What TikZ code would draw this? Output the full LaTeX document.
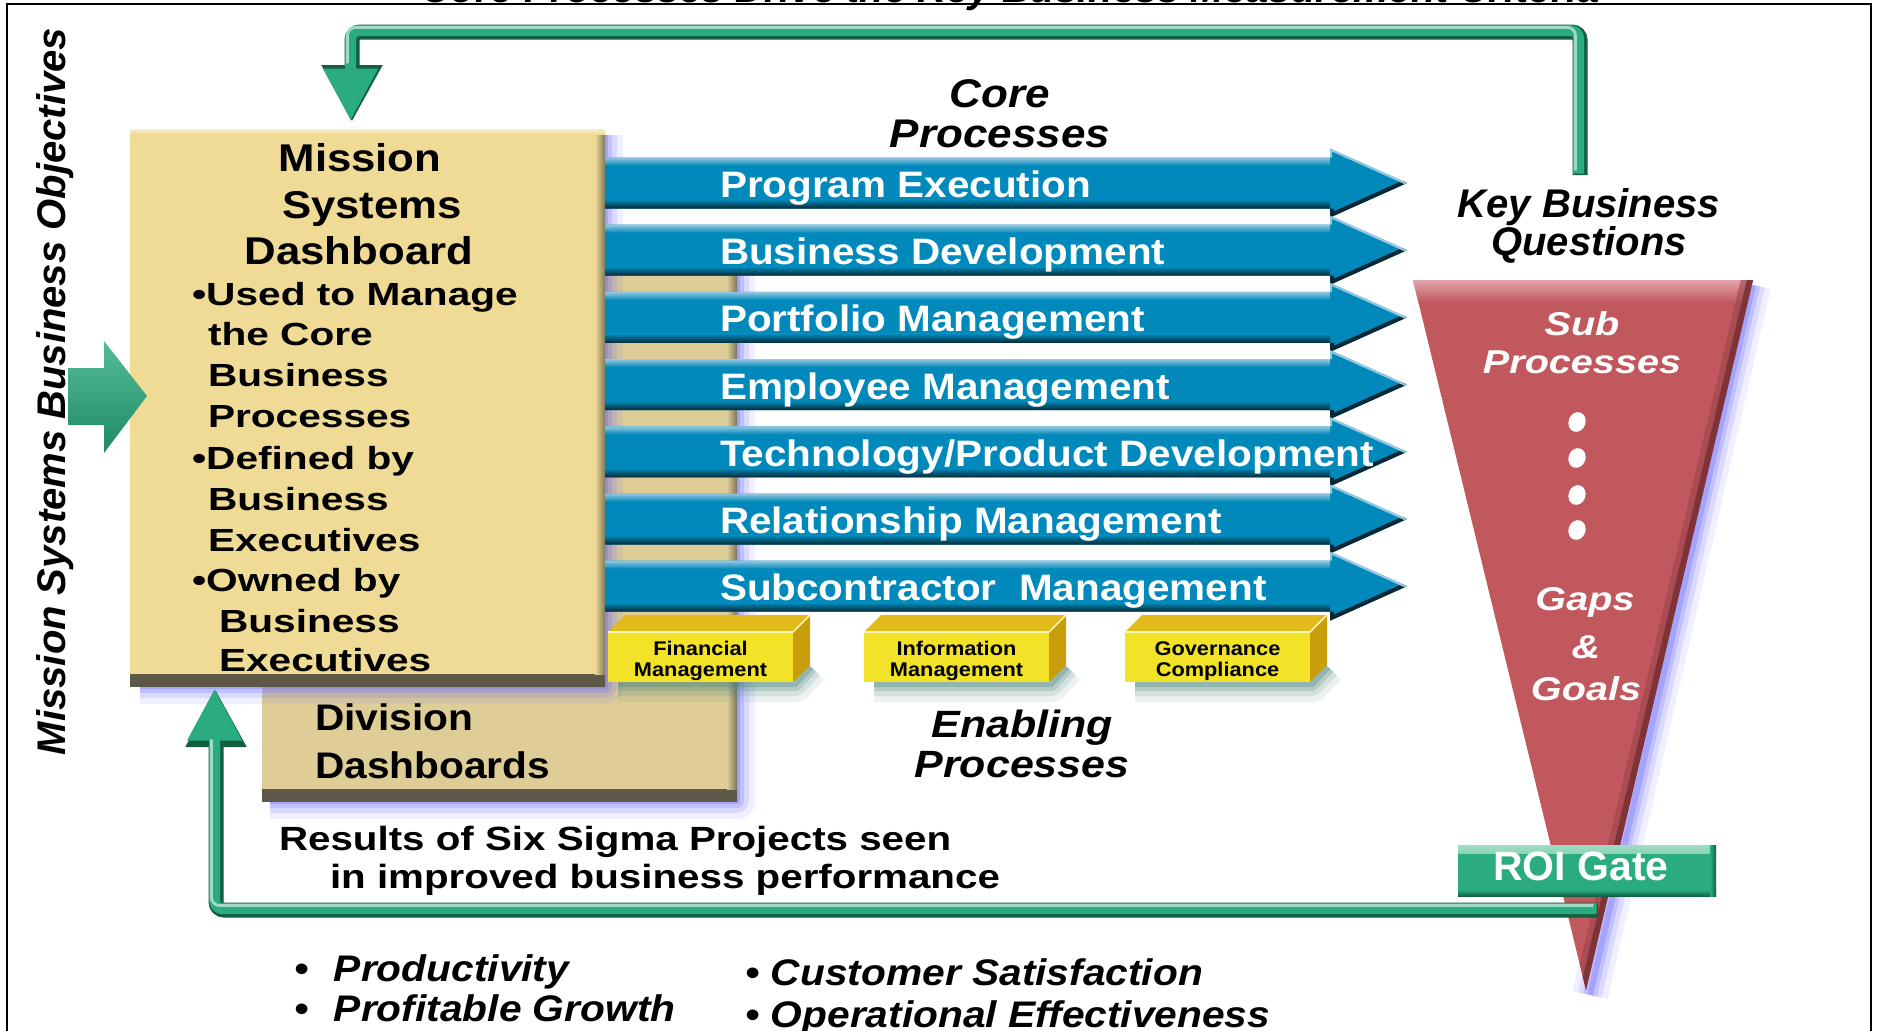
\documentclass[tikz,border=0pt]{standalone}
\usepackage{fontspec}
\setmainfont{Liberation Sans}
\newfontfamily\fnA{Liberation Sans}
\newfontfamily\fnB{Liberation Sans}[FakeStretch=1.10]
\newfontfamily\fnC{Liberation Sans}[FakeStretch=1.13]
\newfontfamily\fnD{Liberation Sans}[FakeStretch=1.20]
\newfontfamily\fnE{Liberation Sans}[FakeStretch=1.27]
\usetikzlibrary{arrows.meta}

\definecolor{beige}{RGB}{239,218,150}
\definecolor{beigeD}{RGB}{222,205,150}
\definecolor{bevel}{RGB}{92,87,70}
\definecolor{cblue}{RGB}{0,137,186}
\definecolor{cblueL}{RGB}{150,200,225}
\definecolor{cblueD}{RGB}{8,40,52}
\definecolor{fun}{RGB}{192,88,94}
\definecolor{funL}{RGB}{228,165,170}
\definecolor{funD}{RGB}{115,45,50}
\definecolor{grn}{RGB}{42,172,128}
\definecolor{grnL}{RGB}{160,220,195}
\definecolor{grnD}{RGB}{18,95,66}
\definecolor{yel}{RGB}{242,226,40}
\definecolor{yelT}{RGB}{226,186,28}
\definecolor{yelS}{RGB}{200,158,10}
\definecolor{glow}{RGB}{100,100,255}
\definecolor{shadowc}{RGB}{70,130,120}

\newcommand{\glowalong}[2][glow]{%
  \foreach \gw/\go in {18pt/0.10,12pt/0.15,7pt/0.22,3pt/0.30}{%
    \draw[#1, line width=\gw, draw opacity=\go, line join=round] #2;}}

\tikzset{
  txt/.style={inner sep=0pt, outer sep=0pt},
  bevelbox/.style={fill=#1, inner sep=0pt, outer sep=0pt, path picture={
    \shade[top color=#1, bottom color=bevel] ([yshift=6pt]path picture bounding box.south west) rectangle (path picture bounding box.south east);
    \shade[left color=#1, right color=bevel!75!#1] ([xshift=-5pt,yshift=-1pt]path picture bounding box.north east) rectangle ([yshift=6pt]path picture bounding box.south east);
    \shade[top color=white!55!#1, bottom color=#1] (path picture bounding box.north west) rectangle ([yshift=-2.5pt]path picture bounding box.north east);
  }},
  roibox/.style={fill=grn, inner sep=0pt, outer sep=0pt, path picture={
    \shade[top color=grnL, bottom color=grn] (path picture bounding box.north west) rectangle ([yshift=-4pt]path picture bounding box.north east);
    \shade[top color=grn, bottom color=grnD] ([yshift=3pt]path picture bounding box.south west) rectangle (path picture bounding box.south east);
    \shade[left color=grn, right color=grnD] ([xshift=-3pt]path picture bounding box.north east) rectangle (path picture bounding box.south east);
  }},
  fbdark/.style={draw=grnD, line width=7.5pt, rounded corners=4pt, -{Triangle[width=28.5pt,length=28.5pt]}},
  fbmain/.style={draw=grn, line width=5.5pt, rounded corners=4pt, -{Triangle[width=26pt,length=26pt]}, transform canvas={xshift=-0.7pt,yshift=0.7pt}},
  fblight/.style={draw=grnL, line width=1.4pt, rounded corners=4pt, shorten >=27pt, transform canvas={xshift=-2.3pt,yshift=2.3pt}},
  ttl/.style={txt, anchor=base, font=\fnA\bfseries\itshape\fontsize{20}{24}\selectfont},
  mhead/.style={txt, anchor=base, font=\fnC\bfseries\fontsize{19.35}{23}\selectfont},
  mbul/.style={txt, anchor=base west, font=\fnE\bfseries\fontsize{16}{20}\selectfont},
  arrtxt/.style={txt, anchor=base west, text=white, font=\fnB\bfseries\fontsize{18.4}{22}\selectfont},
  corett/.style={txt, anchor=base, font=\fnB\bfseries\itshape\fontsize{20}{24}\selectfont},
  entt/.style={txt, anchor=base, font=\fnC\bfseries\itshape\fontsize{19}{23}\selectfont},
  divt/.style={txt, anchor=base west, font=\fnB\bfseries\fontsize{18.5}{22}\selectfont},
  rest/.style={txt, anchor=base west, font=\fnD\bfseries\fontsize{16.8}{20}\selectfont},
  bult/.style={txt, anchor=base west, font=\fnB\bfseries\itshape\fontsize{18.5}{22}\selectfont},
  funt/.style={txt, anchor=base, text=white, font=\fnD\bfseries\itshape\fontsize{16.5}{20}\selectfont},
  ytxt/.style={txt, anchor=base, font=\fnB\bfseries\fontsize{9.9}{12}\selectfont},
}

\begin{document}
\begin{tikzpicture}[x=0.5pt,y=-0.5pt]
\useasboundingbox (0,0) rectangle (1880,1030);
\fill[white] (0,0) rectangle (1880,1030);
\draw[line width=1pt] (7,4) rectangle (1871,1050);
\node[ttl] (title) at (1011,2.5) {Core Processes Drive the Key Business Measurement Criteria};

% vertical label
\node[ttl, rotate=90] (vobj) at (65,391.5) {Mission Systems Business Objectives};

% division dashboards
\glowalong{(737,255) -- (737,801) -- (270,801)}
\node[bevelbox=beigeD, minimum width=237.5pt, minimum height=280.5pt, anchor=north west] (div) at (262,240) {};
\node[divt] (dv1) at (315,730) {Division};
\node[divt] (dv2) at (315,778) {Dashboards};

% mission systems dashboard
\glowalong{(605,135) -- (605,686) -- (140,686)}
\node[bevelbox=beige, minimum width=237.5pt, minimum height=278.5pt, anchor=north west] (msd) at (130,129) {};
\node[mhead] (mh1) at (360,171.8) {Mission};
\node[mhead] (mh2) at (372,218) {Systems};
\node[mhead] (mh3) at (359,264) {Dashboard};
\node[mbul] (mb1) at (192,305) {•Used to Manage};
\node[mbul] (mb2) at (208,345.7) {the Core};
\node[mbul] (mb3) at (208,386) {Business};
\node[mbul] (mb4) at (208,427) {Processes};
\node[mbul] (mb5) at (192,469.6) {•Defined by};
\node[mbul] (mb6) at (208,510) {Business};
\node[mbul] (mb7) at (208,551) {Executives};
\node[mbul] (mb8) at (192,591.7) {•Owned by};
\node[mbul] (mb9) at (219,632) {Business};
\node[mbul] (mb10) at (219,671) {Executives};

% input arrow
\shade[top color=grnL!35!grn, bottom color=grnD!45!grn] (68,368) -- (104,368) -- (104,341) -- (147,396) -- (104,453) -- (104,425) -- (68,425) -- cycle;

% core process arrows
\foreach \t [count=\i from 0] in {Program Execution, Business Development, Portfolio Management, Employee Management, Technology/Product Development, Relationship Management, Subcontractor\ \ Management}{
  \pgfmathsetmacro\yy{157.5+67.2*\i}
  \begin{scope}
    \path[clip] (605,\yy) -- (1330,\yy) -- (1330,\yy-9) -- (1407,\yy+25.5) -- (1330,\yy+60) -- (1330,\yy+51) -- (605,\yy+51) -- cycle;
    \fill[cblue] (600,\yy-10) rectangle (1410,\yy+61);
    \shade[top color=cblueL, bottom color=cblue] (600,\yy) rectangle (1330,\yy+8);
    \shade[top color=cblue, bottom color=cblueD] (600,\yy+42) rectangle (1330,\yy+51);
    \draw[cblueD, line width=4pt] (1330,\yy+51) -- (1330,\yy+60) -- (1407,\yy+25.5);
    \draw[cblueL, line width=2pt] (1330,\yy) -- (1330,\yy-9) -- (1407,\yy+25.5);
  \end{scope}
  \node[arrtxt] (p\i) at (720,\yy+40) {\t};
}
\node[corett] (core1) at (1000,107) {Core};
\node[corett] (core2) at (1000,147) {Processes};

% enabling process boxes
\foreach \bx/\la/\lb [count=\k] in {608/Financial/Management, 864/Information/Management, 1125/Governance/Compliance}{
  \glowalong[shadowc]{(\bx+10,684) -- (\bx+187,684) -- (\bx+203,667)}
  \fill[yel] (\bx,632) rectangle (\bx+185,682);
  \fill[yelT] (\bx,632) -- (\bx+17,615) -- (\bx+202,615) -- (\bx+185,632) -- cycle;
  \fill[yelS] (\bx+185,632) -- (\bx+202,615) -- (\bx+202,665) -- (\bx+185,682) -- cycle;
  \draw[white!65!yel, line width=0.8pt] (\bx,632) -- (\bx+185,632) -- (\bx+202,615);
  \node[ytxt] (ya\k) at (\bx+92.5,655) {\la};
  \node[ytxt] (yb\k) at (\bx+92.5,676) {\lb};
}
\node[entt] (en1) at (1022,737) {Enabling};
\node[entt] (en2) at (1022,777) {Processes};

% funnel
\glowalong{(1753,285) -- (1590,995)}
\fill[fun] (1413,280) -- (1753,280) -- (1586,990) -- cycle;
\begin{scope}
  \clip (1413,280) -- (1753,280) -- (1586,990) -- cycle;
  \shade[top color=funL, bottom color=fun] (1400,280) rectangle (1760,302);
  \draw[funD!45!fun, line width=12pt, draw opacity=0.6] (1753,280) -- (1586,990);
  \draw[funD, line width=6pt, draw opacity=0.8] (1753,280) -- (1586,990);
\end{scope}
\node[funt] (fs1) at (1582,335) {Sub};
\node[funt] (fs2) at (1582,373) {Processes};
\foreach \dy [count=\k] in {422,458,495,530}{
  \fill[white, rotate around={-20:(1577,\dy)}] (1577,\dy) ellipse [x radius=8.5, y radius=10];
}
\node[funt] (fs3) at (1585,610) {Gaps};
\node[funt] (fs4) at (1586,658) {\&};
\node[funt] (fs5) at (1586,700) {Goals};

\node[ttl] (kbq1) at (1589,217) {Key Business};
\node[ttl] (kbq2) at (1589,255) {Questions};

% ROI gate
\node[roibox, minimum width=129pt, minimum height=25.5pt, anchor=north west] (roi) at (1458,845) {};
\node[txt, anchor=base, text=white, font=\fnA\bfseries\fontsize{20.5}{24}\selectfont] (roit) at (1581,880) {ROI Gate};

% feedback connectors
\coordinate (fbstart) at (1580,175);
\coordinate (topbar) at (966,32);
\coordinate (topin) at ([xshift=111pt,yshift=3.5pt]msd.north west);
\draw[fbdark] (fbstart) |- (topbar) -| (topin);
\draw[fbmain] (fbstart) |- (topbar) -| (topin);
\draw[fblight] (fbstart) |- (topbar) -| (topin);

\coordinate (botstart) at (1598,910);
\coordinate (botin) at ([xshift=43pt,yshift=-2pt]msd.south west);
\draw[fbdark] (botstart) -| (botin);
\draw[fbmain] (botstart) -| (botin);
\draw[fblight] (botstart) -| (botin);

% texts
\node[rest] (res1) at (279,850) {Results of Six Sigma Projects seen};
\node[rest] (res2) at (330,888) {in improved business performance};
\node[bult] (bl1) at (294,981) {\makebox[20pt][l]{•}Productivity};
\node[bult] (bl2) at (294,1021) {\makebox[20pt][l]{•}Profitable Growth};
\node[bult] (bl3) at (745,985) {\makebox[13pt][l]{•}Customer Satisfaction};
\node[bult] (bl4) at (745,1027) {\makebox[13pt][l]{•}Operational Effectiveness};
\end{tikzpicture}
\end{document}
